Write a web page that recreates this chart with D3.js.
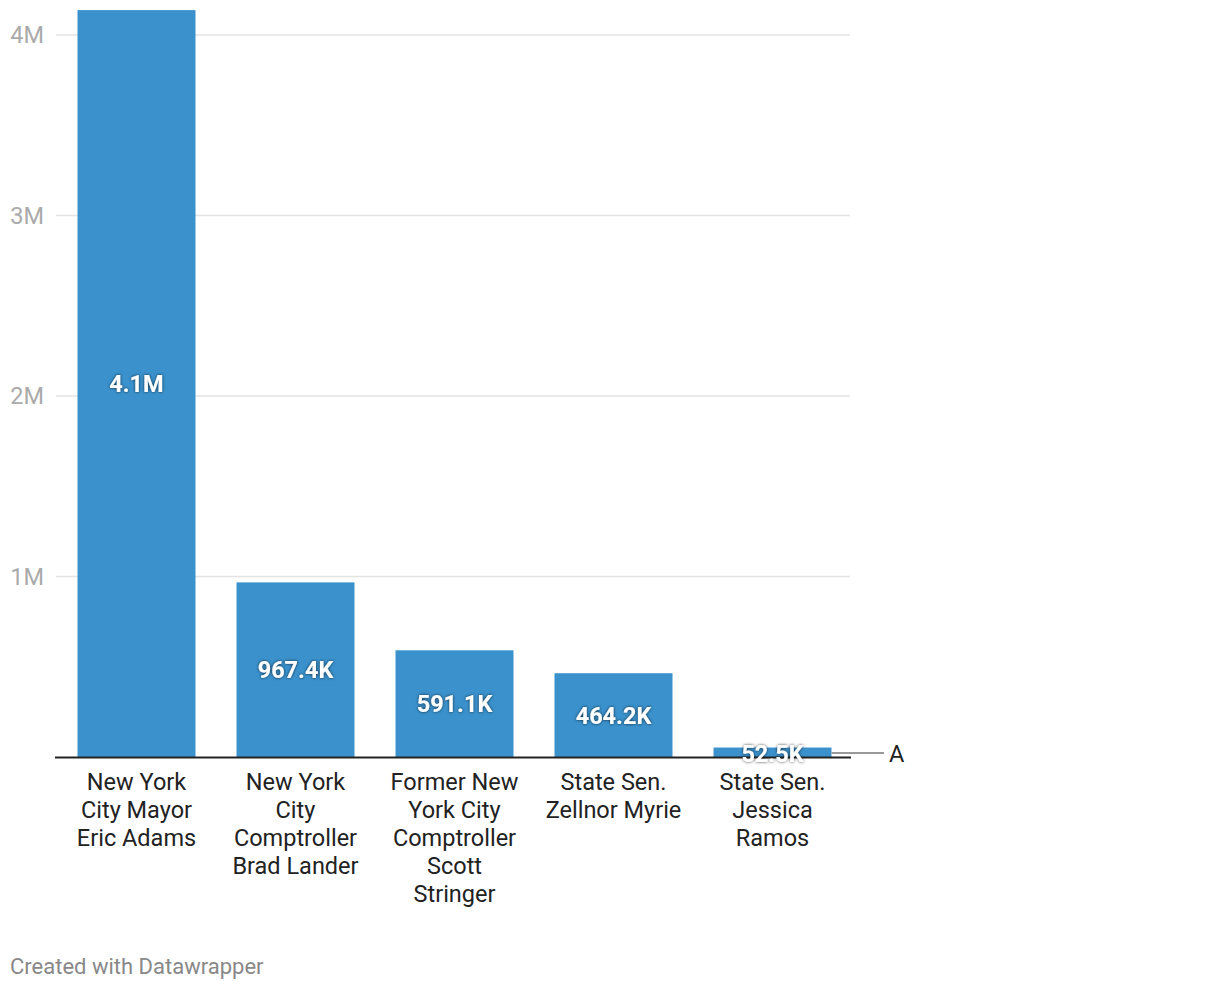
<!DOCTYPE html>
<html><head><meta charset="utf-8">
<script src="https://cdn.jsdelivr.net/npm/d3@7"></script>
<style>
body{margin:0;background:#fff;font-family:Roboto,sans-serif;}
.vl{font-weight:700;fill:#fff;}
</style></head>
<body><svg id="c" width="1220" height="990"></svg>
<script>
const categories = [
  ["New York","City Mayor","Eric Adams"],
  ["New York","City","Comptroller","Brad Lander"],
  ["Former New","York City","Comptroller","Scott","Stringer"],
  ["State Sen.","Zellnor Myrie"],
  ["State Sen.","Jessica","Ramos"]
];
const values = [4138000, 967400, 591100, 464200, 52500];
const valueLabels = ["4.1M","967.4K","591.1K","464.2K","52.5K"];
const yTicks = [1000000, 2000000, 3000000, 4000000];
const yTickLabels = ["1M","2M","3M","4M"];
const annotation = "A";

const svg = d3.select("#c");
const defs = svg.append("defs");
const f = defs.append("filter").attr("id","sh").attr("x","-20%").attr("y","-50%").attr("width","140%").attr("height","200%");
f.append("feDropShadow").attr("dx",0).attr("dy",0).attr("stdDeviation",1.6).attr("flood-color","#000").attr("flood-opacity",0.75);

const x = d3.scaleBand().domain(d3.range(values.length)).range([57,852]).paddingInner(0.258).paddingOuter(0.129);
const y = d3.scaleLinear().domain([0,4000000]).range([757,35]);

// grid
svg.append("g").selectAll("line").data(yTicks).join("line")
  .attr("x1",56).attr("x2",850).attr("y1",d=>y(d)).attr("y2",d=>y(d))
  .attr("stroke","#e3e3e3").attr("stroke-width",1.5);
svg.append("g").selectAll("text").data(yTicks).join("text")
  .attr("x",44).attr("y",d=>y(d)+8).attr("text-anchor","end")
  .attr("font-size",23.5).attr("fill","#aaa").text((d,i)=>yTickLabels[i]);

// bars
svg.append("g").selectAll("rect").data(values).join("rect")
  .attr("x",(d,i)=>x(i)).attr("width",x.bandwidth())
  .attr("y",d=>y(d)).attr("height",d=>y(0)-y(d)).attr("fill","#3a91cc");

// baseline
svg.append("line").attr("x1",55).attr("x2",851).attr("y1",757.5).attr("y2",757.5).attr("stroke","#222").attr("stroke-width",2);

// annotation line
const last = values.length-1;
svg.append("line").attr("x1",x(last)+x.bandwidth()).attr("x2",884)
  .attr("y1",y(values[last])+5.5).attr("y2",y(values[last])+5.5).attr("stroke","#999").attr("stroke-width",2);
svg.append("text").attr("x",889).attr("y",y(values[last])+14).attr("font-size",23.5).attr("fill","#222").text(annotation);

// value labels
svg.append("g").selectAll("text").data(values).join("text")
  .attr("class","vl").attr("filter","url(#sh)")
  .attr("x",(d,i)=>x(i)+x.bandwidth()/2)
  .attr("y",(d,i)=> i===last ? y(d)+14 : (y(d)+y(0))/2+8.5)
  .attr("text-anchor","middle").attr("font-size",23.5).text((d,i)=>valueLabels[i]);

// category labels
const cg = svg.append("g").selectAll("text").data(categories).join("text")
  .attr("x",(d,i)=>x(i)+x.bandwidth()/2).attr("y",790)
  .attr("text-anchor","middle").attr("font-size",23.5).attr("fill","#222");
cg.selectAll("tspan").data(d=>d).join("tspan")
  .attr("x",function(){return this.parentNode.getAttribute("x");})
  .attr("dy",(d,i)=>i===0?0:28).text(d=>d);

svg.append("text").attr("x",10).attr("y",974).attr("font-size",22).attr("fill","#888").text("Created with Datawrapper");
</script></body></html>
